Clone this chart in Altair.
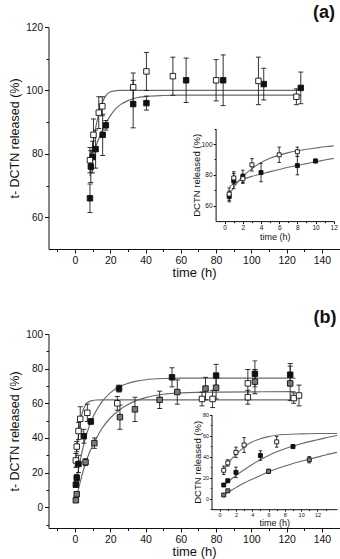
import altair as alt
import pandas as pd

# ---------------- data ----------------
# Panel (a) main
a_fill_t = [8.5, 9, 10, 11.7, 15.7, 17.5, 33, 40.5, 63, 84, 107, 128]
a_fill_y = [66, 76, 79, 81.5, 86, 89, 95.7, 96, 103.2, 103.2, 102, 100.8]
a_fill_e = [4.5, 5, 5, 6, 6.5, 1.5, 7.5, 2.2, 7, 8, 5, 5]
a_open_t = [8.5, 10.5, 13.5, 15.5, 33, 40.5, 55.5, 80, 104, 125.5]
a_open_y = [78, 86, 93, 95, 101, 106, 104.5, 103.2, 103, 98]
a_open_e = [4, 5, 5, 3, 4.5, 6, 6, 6.5, 7.5, 2.5]
a_fitf_t = [8.5, 10, 12, 14, 16, 18, 20, 23, 26, 30, 35, 40, 50, 60, 80, 128]
a_fitf_y = [73, 78.5, 82.5, 85.5, 88, 90.2, 92, 94.2, 95.6, 96.8, 97.7, 98.1, 98.4, 98.5, 98.5, 98.5]
a_fito_t = [8.5, 10, 12, 14, 15, 16, 17, 18, 20, 22, 25, 30, 40, 128]
a_fito_y = [77, 82.5, 89, 93.5, 95.2, 96.8, 97.9, 98.7, 99.5, 99.8, 100, 100, 100, 100]

# Panel (a) inset
ia_fill_t = [0.5, 1, 2, 4, 8, 10]
ia_fill_y = [66, 76, 79, 81.5, 86, 89]
ia_fill_e = [3.5, 5, 4, 6, 6, 1.2]
ia_open_t = [0.5, 1, 2, 3, 6, 8]
ia_open_y = [67.5, 78, 77.5, 86.5, 93, 95]
ia_open_e = [4, 4, 3, 4, 5, 3]
ia_fitf_t = [0.5, 1, 1.5, 2, 3, 4, 5, 6, 7, 8, 9, 10, 11, 12]
ia_fitf_y = [72, 74.3, 75.8, 77, 79, 80.6, 82.1, 83.5, 84.9, 86.1, 87.3, 88.5, 89.6, 90.7]
ia_fito_t = [0.5, 1, 1.5, 2, 3, 4, 5, 6, 7, 8, 9, 10, 11, 12]
ia_fito_y = [67, 72, 75.8, 79, 84, 88, 90.8, 92.8, 94.4, 95.6, 96.6, 97.4, 98.2, 98.8]

# Panel (b) main
b_open_t = [0.5, 1, 2, 3, 7, 24, 72, 78, 98, 98, 124, 127]
b_open_y = [27, 35, 44, 51, 54.5, 60, 62.5, 62.5, 71.5, 63.5, 63, 64.5]
b_open_e = [4, 3, 5, 7, 5, 4, 4, 5, 8, 4, 3, 6]
b_fill_t = [0.5, 1, 2, 5, 9, 25, 55, 80, 102, 122]
b_fill_y = [13, 17, 25, 41, 49.5, 68.5, 75, 76, 77, 76.5]
b_fill_e = [1.5, 2, 5, 4, 1.5, 2, 5.5, 6.5, 7.5, 6.5]
b_half_t = [0.5, 1, 6, 11, 25.5, 34, 48, 58, 74, 80, 102, 122]
b_half_y = [4, 7.5, 26, 37, 52, 56.5, 62, 66.5, 68.5, 69, 72.5, 71.5]
b_half_e = [1, 1, 2, 3, 7, 7, 5, 7, 6.5, 6.5, 7, 10]
b_fito_t = [0, 0.5, 1, 2, 3, 4, 5, 6, 7, 8, 10, 12, 15, 20, 126]
b_fito_y = [23, 28, 33, 42, 49, 54, 57, 59, 60.3, 61, 61.6, 61.9, 62, 62, 62]
b_fitf_t = [0.5, 1, 2, 4, 6, 8, 10, 12, 15, 20, 25, 30, 35, 40, 50, 60, 125]
b_fitf_y = [13, 16, 22, 32, 40, 46.5, 51.5, 55.5, 60.5, 66, 69.5, 71.5, 72.8, 73.6, 74.3, 74.5, 74.5]
b_fith_t = [0.5, 1, 2, 4, 6, 8, 10, 12, 15, 20, 25, 30, 35, 40, 50, 60, 80, 125]
b_fith_y = [3.5, 6, 10.5, 18.5, 25.5, 31, 35.5, 39.5, 45, 51.5, 56, 59.3, 61.7, 63.3, 65.2, 66, 66.5, 66.7]

# Panel (b) inset
ib_open_t = [0.5, 1, 2, 3, 7]
ib_open_y = [27, 34, 44, 51, 54]
ib_open_e = [4, 3, 5, 7, 5]
ib_fill_t = [0.5, 1, 2, 5, 9]
ib_fill_y = [13, 17, 25, 41, 49.5]
ib_fill_e = [1.5, 1.5, 5, 4.5, 1.5]
ib_half_t = [0.5, 1, 6, 11]
ib_half_y = [3.5, 7.5, 26, 37]
ib_half_e = [1, 1, 2, 3]
ib_fito_t = [0.5, 1, 1.5, 2, 3, 4, 5, 6, 7, 8, 10, 12, 14.4]
ib_fito_y = [28, 33, 38, 42, 49, 54, 57, 59, 60.3, 61, 61.6, 61.9, 62]
ib_fitf_t = [0.5, 1, 2, 3, 4, 5, 6, 7, 8, 9, 10, 11, 12, 13, 14.4]
ib_fitf_y = [13, 16, 22, 27.5, 32.5, 37, 41, 44.5, 47.5, 50, 52.2, 54.2, 56, 57.8, 60]
ib_fith_t = [0.5, 1, 2, 3, 4, 5, 6, 7, 8, 9, 10, 11, 12, 13, 14.4]
ib_fith_y = [3.5, 6, 10.5, 14.8, 18.5, 22, 25.5, 28.5, 31, 33.5, 35.5, 37.5, 39.5, 41.5, 44]

FONT = "Liberation Sans"
W, H = 340, 559


def pts_df(series):
    rows = []
    for name, ts, ys, es in series:
        for t, y, e in zip(ts, ys, es):
            rows.append({"t": t, "y": y, "lo": y - e, "hi": y + e, "s": name})
    return pd.DataFrame(rows)


def fit_df(series):
    rows = []
    for name, ts, ys in series:
        for t, y in zip(ts, ys):
            rows.append({"t": t, "y": y, "s": name})
    return pd.DataFrame(rows)


def panel(pts, fits, xdom, xrng, ydom, yrng, fdom, frng, msize, capw, lw,
          xaxis, yaxis, xminor, yminor):
    xs = alt.Scale(domain=xdom, range=xrng, nice=False, zero=False)
    ys = alt.Scale(domain=ydom, range=yrng, nice=False, zero=False)

    def X(axis=None):
        return alt.X("t:Q", scale=xs, axis=axis)

    def Y(f="y", axis=None):
        return alt.Y(f + ":Q", scale=ys, axis=axis)

    lines = alt.Chart(fits).mark_line(color="#6a6a6a", strokeWidth=lw,
                                      interpolate="monotone").encode(
        x=X(), y=Y(), detail="s:N")
    rules = alt.Chart(pts).mark_rule(color="#1e1e1e", strokeWidth=0.9).encode(
        x=X(), y=Y("lo"), y2=alt.Y2("hi:Q"))
    cap_lo = alt.Chart(pts).mark_tick(orient="horizontal", size=capw, thickness=0.9,
                                      color="#1e1e1e", opacity=1).encode(x=X(), y=Y("lo"))
    cap_hi = alt.Chart(pts).mark_tick(orient="horizontal", size=capw, thickness=0.9,
                                      color="#1e1e1e", opacity=1).encode(x=X(), y=Y("hi"))
    points = alt.Chart(pts).mark_square(size=msize, stroke="#111111", strokeWidth=0.9,
                                        opacity=1).encode(
        x=X(xaxis), y=Y("y", yaxis),
        fill=alt.Fill("s:N", scale=alt.Scale(domain=fdom, range=frng), legend=None))
    minor = alt.Chart(pts).mark_point(opacity=0).encode(x=X(xminor), y=Y("y", yminor))
    return [lines, rules, cap_lo, cap_hi, points, minor]


def major_axis(orient, offset, values, title, lsize, tsize, tick, lpad, tpad):
    return alt.Axis(orient=orient, offset=offset, values=values, title=title,
                    labelFontSize=lsize, titleFontSize=tsize, tickSize=tick,
                    labelPadding=lpad, titlePadding=tpad, grid=False,
                    labelFlush=False, labelOverlap=False)


def minor_axis(orient, offset, values, tick):
    return alt.Axis(orient=orient, offset=offset, values=values, title="",
                    labels=False, domain=False, tickSize=tick, grid=False)


MAIN_X = [48.5, 339.6]
XDOM = [-15, 150]
xmaj = [0, 20, 40, 60, 80, 100, 120, 140]
xmin = [-10, 10, 30, 50, 70, 90, 110, 130, 150]

# ---- panel (a) main ----
A_BOT, A_TOP = 249, 27
layers = panel(
    pts_df([("f", a_fill_t, a_fill_y, a_fill_e), ("o", a_open_t, a_open_y, a_open_e)]),
    fit_df([("f", a_fitf_t, a_fitf_y), ("o", a_fito_t, a_fito_y)]),
    XDOM, MAIN_X, [50, 120], [A_BOT, A_TOP], ["f", "o"], ["#111111", "white"], 30, 5, 1.2,
    major_axis("bottom", A_BOT - H, xmaj, "time (h)", 10.5, 13, 4, 2, 1),
    major_axis("left", -48.5, [60, 80, 100, 120], "t- DCTN released (%)", 10, 12.5, 4, 2, 4),
    minor_axis("bottom", A_BOT - H, xmin, 2.5),
    minor_axis("left", -48.5, [70, 90, 110], 2.5))

# ---- panel (a) inset ----
IA_BOT, IA_TOP = 221.1, 128.6
layers += panel(
    pts_df([("f", ia_fill_t, ia_fill_y, ia_fill_e), ("o", ia_open_t, ia_open_y, ia_open_e)]),
    fit_df([("f", ia_fitf_t, ia_fitf_y), ("o", ia_fito_t, ia_fito_y)]),
    [-1, 12], [215.6, 333.7], [50, 110], [IA_BOT, IA_TOP], ["f", "o"], ["#111111", "white"],
    16, 3.5, 1.1,
    major_axis("bottom", IA_BOT - H, [0, 2, 4, 6, 8, 10, 12], "time (h)", 6.5, 9, 2.5, 1, 1),
    major_axis("left", -215.6, [60, 80, 100], "DCTN released (%)", 6.5, 9.5, 2.5, 1, 0),
    minor_axis("bottom", IA_BOT - H, [1, 3, 5, 7, 9, 11], 1.5),
    minor_axis("left", -215.6, [70, 90, 110], 1.5))

# ---- panel (b) main ----
B_BOT, B_TOP = 528, 334
layers += panel(
    pts_df([("o", b_open_t, b_open_y, b_open_e), ("f", b_fill_t, b_fill_y, b_fill_e),
            ("h", b_half_t, b_half_y, b_half_e)]),
    fit_df([("o", b_fito_t, b_fito_y), ("f", b_fitf_t, b_fitf_y), ("h", b_fith_t, b_fith_y)]),
    XDOM, MAIN_X, [-12, 100], [B_BOT, B_TOP], ["f", "o", "h"], ["#111111", "white", "#7a7a7a"],
    30, 5, 1.2,
    major_axis("bottom", B_BOT - H, xmaj, "time (h)", 10.5, 13, 4, 2, 1),
    major_axis("left", -48.5, [0, 20, 40, 60, 80, 100], "t- DCTN released (%)", 10, 12.5, 4, 2, 4),
    minor_axis("bottom", B_BOT - H, xmin, 2.5),
    minor_axis("left", -48.5, [-10, 10, 30, 50, 70, 90], 2.5))

# ---- panel (b) inset ----
IB_BOT, IB_TOP = 509.2, 414.5
layers += panel(
    pts_df([("o", ib_open_t, ib_open_y, ib_open_e), ("f", ib_fill_t, ib_fill_y, ib_fill_e),
            ("h", ib_half_t, ib_half_y, ib_half_e)]),
    fit_df([("o", ib_fito_t, ib_fito_y), ("f", ib_fitf_t, ib_fitf_y), ("h", ib_fith_t, ib_fith_y)]),
    [-1, 14.4], [211.5, 337], [-10, 80], [IB_BOT, IB_TOP], ["f", "o", "h"],
    ["#111111", "white", "#7a7a7a"], 16, 3.5, 1.1,
    major_axis("bottom", IB_BOT - H, [0, 2, 4, 6, 8, 10, 12], "time (h)", 5.5, 9, 2, 1, 1),
    major_axis("left", -211.5, [0, 20, 40, 60, 80], "DCTN released (%)", 5.5, 9.5, 2, 1, 0),
    minor_axis("bottom", IB_BOT - H, [1, 3, 5, 7, 9, 11, 13], 1.2),
    minor_axis("left", -211.5, [-10, 10, 30, 50, 70], 1.2))

# panel letters
one = pd.DataFrame({"k": [0]})
for lab, px, py in [("(a)", 324, 17.5), ("(b)", 325, 323)]:
    layers.append(alt.Chart(one).mark_text(text=lab, fontSize=18, fontWeight="bold",
                                           font=FONT, align="center", baseline="alphabetic",
                                           color="#111111").encode(
        x=alt.value(px), y=alt.value(py)))

chart = alt.layer(*layers).resolve_scale(
    x="independent", y="independent", fill="independent"
).resolve_axis(x="independent", y="independent").properties(
    width=W, height=H, autosize=alt.AutoSizeParams(type="none"), padding=0
).configure_view(stroke=None).configure_axis(
    labelFont=FONT, titleFont=FONT, labelColor="#111111", titleColor="#111111",
    domainColor="#111111", tickColor="#111111", domainWidth=1, tickWidth=1,
    titleFontWeight="normal"
)

chart.save("out.html", embed_options={"renderer": "svg", "actions": False})
